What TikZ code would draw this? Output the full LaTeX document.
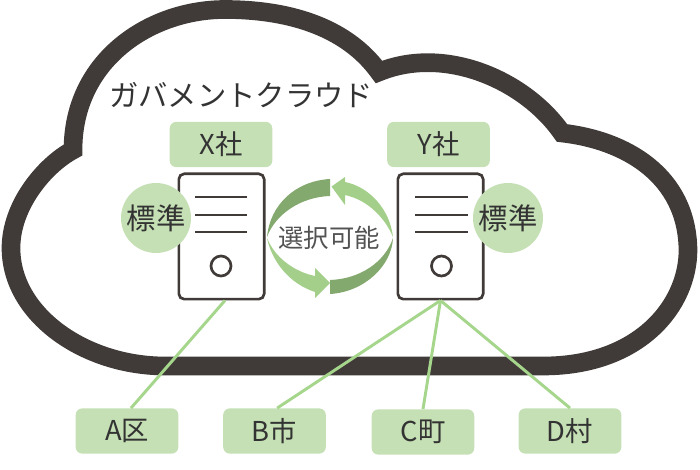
\documentclass[tikz,border=0pt]{standalone}
\usepackage{fontspec}
\setmainfont{Noto Sans CJK JP}
\definecolor{cloudgray}{HTML}{403B38}
\definecolor{palegreen}{HTML}{C5E0B4}
\definecolor{linkgreen}{HTML}{A5D68C}
\definecolor{arrowlight}{HTML}{A3CF8A}
\definecolor{arrowdark}{HTML}{84A96F}
\definecolor{inkgray}{HTML}{333333}
\tikzset{
  namebox/.style={fill=palegreen, rounded corners=5pt, minimum width=77pt, minimum height=34pt, inner sep=0pt, text=inkgray, font=\fontsize{20.5}{22}\selectfont},
  stdmark/.style={circle, fill=palegreen, minimum size=52.5pt, inner sep=0pt, text=inkgray, font=\fontsize{22}{24}\selectfont},
  server/.style={draw=cloudgray, fill=white, line width=2pt, rounded corners=4pt, minimum width=64pt, minimum height=94pt, inner sep=0pt},
  srvline/.style={draw=cloudgray, line width=2pt},
  srvknob/.style={circle, draw=cloudgray, line width=2pt, minimum size=15pt, inner sep=0pt},
  link/.style={draw=linkgreen, line width=2.2pt}
}
\begin{document}
\begin{tikzpicture}[x=0.75pt, y=-0.75pt]
\useasboundingbox (0,0) rectangle (700,470);
\draw[cloudgray, line width=14pt, miter limit=10] (165,366) -- (543,366) .. controls (640,366) and (688,305) .. (688,250)
  .. controls (687,175) and (625,140) .. (562,133) .. controls (525,80) and (445,45) .. (379,72)
  .. controls (345,25) and (285,9.5) .. (225,9.5) .. controls (150,9.5) and (73,60) .. (73,150)
  .. controls (45,165) and (11,205) .. (11,248) .. controls (11,315) and (85,366) .. cycle;
\node[text=inkgray, font=\fontsize{22}{24}\selectfont] (title) at (241,95) {ガバメントクラウド};
\node[namebox] (labelx) at (221,144.5) {X社};
\node[namebox] (labely) at (438.5,144.5) {Y社};
\node[namebox] (boxa) at (127,431) {A区};
\node[namebox] (boxb) at (274.5,431) {B市};
\node[namebox] (boxc) at (423,432) {C町};
\node[namebox] (boxd) at (570,431) {D村};
\node[server] (srvx) at (221.5,236.5) {};
\node[server] (srvy) at (440.5,236.5) {};
\draw[link] ([xshift=2.6pt]srvx.south) -- ([xshift=3pt]boxa.north);
\draw[link] (srvy.south) -- ([xshift=2pt]boxb.north);
\draw[link] (srvy.south) -- (boxc.north);
\draw[link] (srvy.south) -- (boxd.north);
\foreach \y in {197,215,232} {
  \draw[srvline] (195,\y) -- (247,\y);
  \draw[srvline] (415,\y) -- (468,\y);
}
\node[srvknob] (knobx) at (221,266) {};
\node[srvknob] (knoby) at (441.5,266) {};
\node[stdmark] (stdx) at (156,218) {標準};
\node[stdmark] (stdy) at (508,218) {標準};
\fill[arrowdark] (330,179) .. controls (295,181) and (270,205) .. (267,237) .. controls (275,215) and (300,197) .. (330,196) -- cycle;
\fill[arrowlight] (331.5,186.5) -- (345,177) -- (345,182) .. controls (370,187) and (390,210) .. (393,237) .. controls (385,218) and (368,200) .. (345,195) -- (345,205) -- cycle;
\fill[arrowdark] (330,280) .. controls (360,279) and (385,262) .. (393,238) .. controls (392,265) and (365,292) .. (330,294) -- cycle;
\fill[arrowlight] (267,238) .. controls (272,262) and (290,284) .. (315,292) -- (315,298) -- (330,283) -- (315,268) -- (315,276) .. controls (295,272) and (275,258) .. (267,238) -- cycle;
\node[text=inkgray!85, font=\fontsize{19}{22}\selectfont] (choice) at (329,238) {選択可能};
\end{tikzpicture}
\end{document}
